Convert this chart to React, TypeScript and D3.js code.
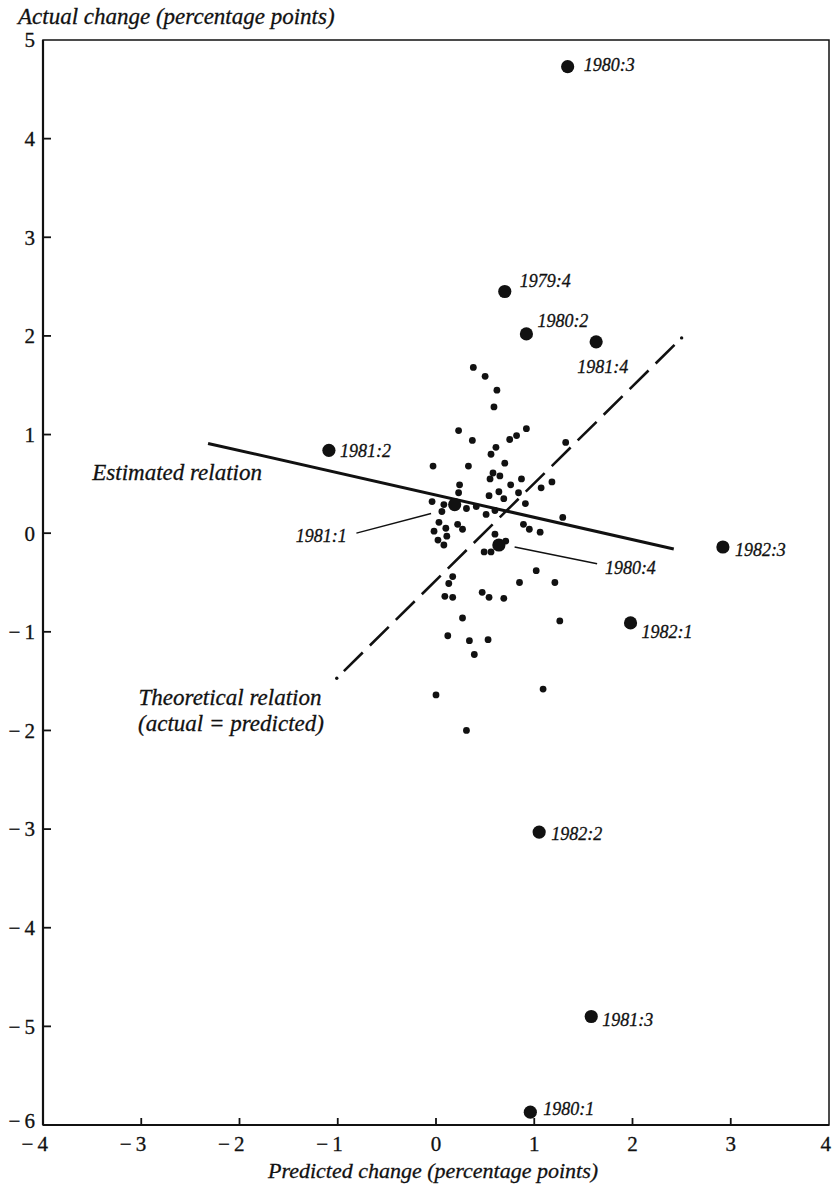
import React from "react";
import * as d3 from "d3";

// ---------- data ----------
const xTicks = [-4, -3, -2, -1, 0, 1, 2, 3, 4];
const yTicks = [5, 4, 3, 2, 1, 0, -1, -2, -3, -4, -5, -6];

const smallX = [
  0.38, 0.5, 0.62, 0.59, 0.23, 0.37, 0.92, 0.82, 0.75, 0.61, 0.56, 1.32, -0.03, 0.33, 0.7, 0.58,
  0.65, 0.55, 0.87, 0.76, 1.18, 1.07, 0.24, 0.23, 0.64, 0.54, 0.69, 0.84, 0.91, -0.04, 0.08, 0.31,
  0.41, 0.51, 0.6, 1.29, 0.06, 0.03, 0.1, -0.02, 0.11, 0.22, 0.27, 0.02, 0.08, 0.89, 0.95, 1.06,
  0.6, 0.71, 0.49, 0.56, 0.17, 0.13, 0.09, 0.17, 0.47, 0.54, 0.69, 0.85, 1.02, 1.21, 1.26, 0.27,
  0.12, 0.34, 0.53, 0.39, 1.09, 0.0, 0.31,
];
const smallY = [
  1.68, 1.59, 1.45, 1.28, 1.04, 0.94, 1.06, 0.99, 0.95, 0.87, 0.8, 0.92, 0.68, 0.68, 0.71, 0.61,
  0.58, 0.55, 0.55, 0.49, 0.52, 0.46, 0.49, 0.41, 0.42, 0.38, 0.35, 0.41, 0.3, 0.32, 0.29, 0.25,
  0.27, 0.19, 0.23, 0.16, 0.22, 0.11, 0.05, 0.02, -0.03, 0.09, 0.04, -0.07, -0.12, 0.09, 0.04, 0.01,
  -0.01, -0.08, -0.19, -0.19, -0.44, -0.51, -0.64, -0.65, -0.6, -0.65, -0.66, -0.5, -0.38, -0.5, -0.89, -0.86,
  -1.04, -1.09, -1.08, -1.23, -1.58, -1.64, -2.0,
];

const labeledNames = [
  "1980:3", "1979:4", "1980:2", "1981:4", "1981:2", "1982:3",
  "1982:1", "1980:4", "1981:1", "1982:2", "1981:3", "1980:1",
];
const labeledX = [1.34, 0.7, 0.92, 1.63, -1.09, 2.92, 1.98, 0.64, 0.19, 1.05, 1.58, 0.96];
const labeledY = [4.73, 2.45, 2.02, 1.94, 0.84, -0.14, -0.91, -0.12, 0.29, -3.03, -4.9, -5.87];

const estimatedX = [-2.32, 2.42];
const estimatedY = [0.91, -0.16];
const theoreticalX = [-1.01, 2.5];
const theoreticalY = [-1.47, 1.98];

const leaderNames = ["1981:1", "1980:4"];
const leaderX1 = [-0.81, 0.8];
const leaderY1 = [0.0, -0.14];
const leaderX2 = [-0.05, 1.64];
const leaderY2 = [0.2, -0.31];

// ---------- layout / styling ----------
const W = 832;
const H = 1185;
const labelOffsets: Record<string, [number, number, string]> = {
  "1980:3": [16, 4, "start"],
  "1979:4": [15, -5, "start"],
  "1980:2": [11, -7, "start"],
  "1981:4": [-19, 31, "start"],
  "1981:2": [11, 7, "start"],
  "1982:3": [12, 9, "start"],
  "1982:1": [11, 15, "start"],
  "1980:4": [106, 29, "start"],
  "1981:1": [-108, 37, "end"],
  "1982:2": [12, 8, "start"],
  "1981:3": [11, 9, "start"],
  "1980:1": [13, 3, "start"],
};

const serif = "'Liberation Serif', 'Times New Roman', serif";
const ink = "#111";
const textStroke = { stroke: ink, strokeWidth: 0.3 };

export default function App() {
  const x = d3.scaleLinear().domain([-4, 4]).range([43, 829]);
  const y = d3.scaleLinear().domain([-6, 5]).range([1125, 40]);
  const line = d3.line<[number, number]>().x((d) => x(d[0])).y((d) => y(d[1]));

  const estPts: [number, number][] = estimatedX.map((v, i) => [v, estimatedY[i]]);
  const theoPts: [number, number][] = theoreticalX.map((v, i) => [v, theoreticalY[i]]);

  // dash pattern so both ends show: dot, gap, dashes ..., gap, dot
  const L = Math.hypot(x(theoPts[1][0]) - x(theoPts[0][0]), y(theoPts[1][1]) - y(theoPts[0][1]));
  const gap = 10;
  const nDash = 13;
  const dash = (L - gap * (nDash + 1)) / nDash;

  const fmt = (t: number) => (t < 0 ? "\u2212\u2009" + Math.abs(t) : String(t));

  return (
    <svg
      width={W}
      height={H}
      style={{ position: "absolute", left: 0, top: 0, background: "#fff" }}
    >
      {/* frame */}
      <rect
        x={x(-4)}
        y={y(5)}
        width={x(4) - x(-4)}
        height={y(-6) - y(5)}
        fill="none"
        stroke={ink}
        strokeWidth={1.5}
      />
      <line x1={x(-4)} x2={x(-4)} y1={y(5)} y2={y(-6)} stroke={ink} strokeWidth={2.2} />
      <line x1={x(-4)} x2={x(4)} y1={y(-6)} y2={y(-6)} stroke={ink} strokeWidth={2.2} />

      {/* y ticks */}
      {yTicks.map((t) => (
        <g key={"yt" + t}>
          {t !== 5 && t !== -6 && (
            <line x1={x(-4)} x2={x(-4) + 8} y1={y(t)} y2={y(t)} stroke={ink} strokeWidth={1.8} />
          )}
          <text
            x={35}
            y={t === -6 ? y(t) - 4 : y(t)}
            dy="0.35em"
            textAnchor="end"
            fontFamily={serif}
            fontSize={21}
            fill={ink}
            {...textStroke}
          >
            {fmt(t)}
          </text>
        </g>
      ))}

      {/* x ticks */}
      {xTicks.map((t) => (
        <g key={"xt" + t}>
          {t !== -4 && t !== 4 && (
            <line x1={x(t)} x2={x(t)} y1={y(-6)} y2={y(-6) - 7} stroke={ink} strokeWidth={1.8} />
          )}
          <text
            x={t < 0 ? x(t) + 5 : t === 4 ? W - 1 : x(t)}
            y={1151}
            textAnchor={t < 0 ? "end" : t === 4 ? "end" : "middle"}
            fontFamily={serif}
            fontSize={21}
            fill={ink}
            {...textStroke}
          >
            {fmt(t)}
          </text>
        </g>
      ))}

      {/* axis titles */}
      <text x={18} y={24} fontFamily={serif} fontStyle="italic" fontSize={23} fill={ink} {...textStroke}>
        Actual change (percentage points)
      </text>
      <text
        x={433}
        y={1178}
        textAnchor="middle"
        fontFamily={serif}
        fontStyle="italic"
        fontSize={22}
        fill={ink}
        {...textStroke}
      >
        Predicted change (percentage points)
      </text>

      {/* estimated relation */}
      <path d={line(estPts) || ""} stroke={ink} strokeWidth={3} fill="none" />
      <text x={262} y={480} textAnchor="end" fontFamily={serif} fontStyle="italic" fontSize={23} fill={ink} {...textStroke}>
        Estimated relation
      </text>

      {/* theoretical relation */}
      <path
        d={line(theoPts) || ""}
        stroke={ink}
        strokeWidth={2.6}
        fill="none"
        strokeDasharray={`${dash} ${gap}`}
        strokeDashoffset={dash}
      />
      {theoPts.map((p, i) => (
        <circle key={"td" + i} cx={x(p[0])} cy={y(p[1])} r={1.7} fill={ink} />
      ))}
      <text x={230} y={705} textAnchor="middle" fontFamily={serif} fontStyle="italic" fontSize={23} fill={ink} {...textStroke}>
        Theoretical relation
      </text>
      <text x={231} y={731} textAnchor="middle" fontFamily={serif} fontStyle="italic" fontSize={23} fill={ink} {...textStroke}>
        (actual = predicted)
      </text>

      {/* small dots */}
      {smallX.map((v, i) => (
        <circle key={"s" + i} cx={x(v)} cy={y(smallY[i])} r={3.4} fill={ink} />
      ))}

      {/* leader lines */}
      {leaderNames.map((n, i) => (
        <line
          key={"ld" + n}
          x1={x(leaderX1[i])}
          y1={y(leaderY1[i])}
          x2={x(leaderX2[i])}
          y2={y(leaderY2[i])}
          stroke={ink}
          strokeWidth={1.4}
        />
      ))}

      {/* labeled points */}
      {labeledNames.map((n, i) => {
        const [dx, dy, anchor] = labelOffsets[n];
        const cx = x(labeledX[i]);
        const cy = y(labeledY[i]);
        return (
          <g key={"l" + n}>
            <circle cx={cx} cy={cy} r={6.6} fill={ink} />
            <text
              x={cx + dx}
              y={cy + dy}
              textAnchor={anchor}
              fontFamily={serif}
              fontStyle="italic"
              fontSize={18}
              fill={ink}
              {...textStroke}
            >
              {n}
            </text>
          </g>
        );
      })}
    </svg>
  );
}
